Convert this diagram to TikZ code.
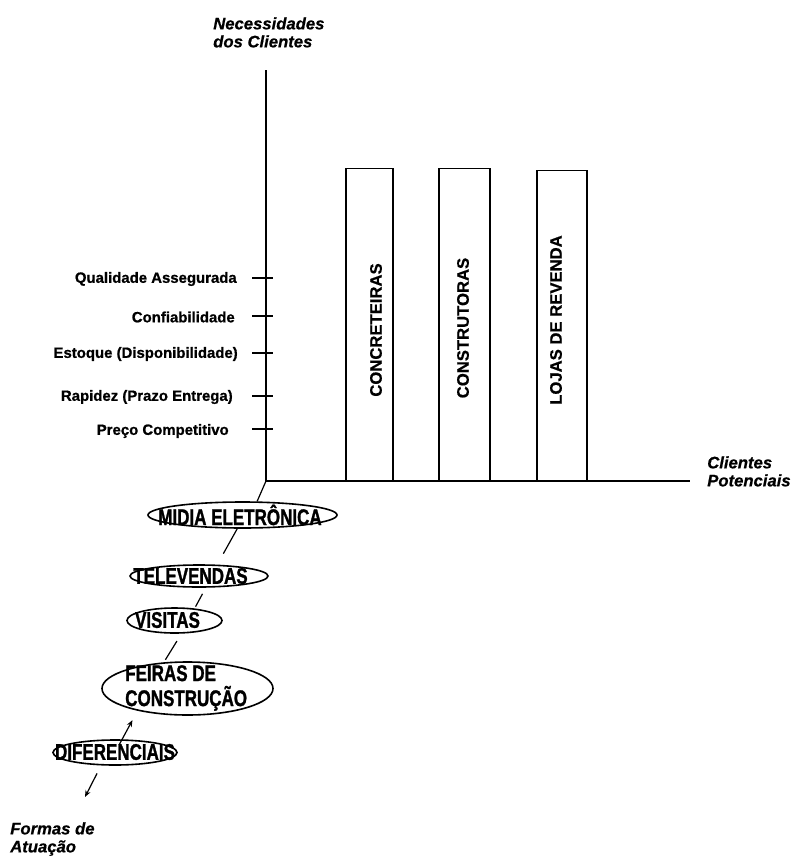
\documentclass[tikz,border=0pt]{standalone}
\usepackage{fontspec}
\setmainfont{Liberation Sans}
\newfontfamily\condfont[FakeStretch=0.75,FakeBold=1.2]{Liberation Sans Bold}
\newfontfamily\heavyfont[FakeBold=0.8]{Liberation Sans Bold}
\newfontfamily\barfont[FakeBold=0.5]{Liberation Sans Bold}
\newfontfamily\heavyitfont[FakeBold=0.6]{Liberation Sans Bold Italic}
\usetikzlibrary{shapes.geometric,arrows.meta}
\begin{document}
\begin{tikzpicture}[x=0.75pt,y=-0.75pt,
  axisline/.style={line width=1.1pt},
  tickline/.style={line width=0.9pt},
  barbox/.style={draw,line width=1.1pt,inner sep=0pt,anchor=south},
  bartext/.style={rotate=90,inner sep=0pt,font=\barfont\fontsize{12.5}{15}\selectfont},
  ticklabel/.style={anchor=east,inner sep=0pt,font=\heavyfont\fontsize{11.2}{12}\selectfont},
  axislabel/.style={anchor=north west,inner sep=0pt,align=left,font=\heavyitfont\fontsize{12.5}{13.5}\selectfont},
  ell/.style={draw,ellipse,line width=1.2pt,inner sep=0pt},
  elltext/.style={inner sep=0pt,font=\condfont\fontsize{17}{18.75}\selectfont},
  conn/.style={line width=0.9pt},
  arr/.style={conn,-{Stealth[length=5pt,width=4pt]}}]
\useasboundingbox (0,0) rectangle (801,857);
\fill[white] (0,0) rectangle (801,857);

% axes
\coordinate (O) at (266,481);
\coordinate (ytop) at (266,70);
\coordinate (xend) at (690,481);
\draw[axisline] (ytop) -- (O) -- (xend);

\node[axislabel] (ylab) at (213,17) {Necessidades\\dos Clientes};
\node[axislabel] (xlab) at (707,456) {Clientes\\Potenciais};
\node[axislabel] (flab) at (10,822) {Formas de\\Atuação};

% ticks and labels
\foreach \yy in {278,316,353,396,429}
  \draw[tickline] (252,\yy) -- (273,\yy);
\node[ticklabel] (t1) at (237,279) {Qualidade Assegurada};
\node[ticklabel] (t2) at (235,317) {Confiabilidade};
\node[ticklabel] (t3) at (238,354) {Estoque (Disponibilidade)};
\node[ticklabel] (t4) at (233,397) {Rapidez (Prazo Entrega)};
\node[ticklabel] (t5) at (229,431) {Preço Competitivo};

% bars
\node[barbox,minimum width=35.25pt,minimum height=234pt] (b1) at (369.5,481) {};
\node[barbox,minimum width=38.25pt,minimum height=234pt] (b2) at (464.5,481) {};
\node[barbox,minimum width=37.5pt,minimum height=232.5pt] (b3) at (562,481) {};
\node[bartext] (b1t) at (376,330) {CONCRETEIRAS};
\node[bartext] (b2t) at (463,328) {CONSTRUTORAS};
\node[bartext] (b3t) at (556,320) {LOJAS DE REVENDA};

% ellipses
\node[ell,minimum width=141.75pt,minimum height=19.5pt] (midia) at (242.5,515) {};
\node[elltext] (midiat) at (240,515) {MIDIA ELETRÔNICA};
\node[ell,minimum width=103.5pt,minimum height=16.5pt] (tele) at (199,576) {};
\node[elltext] (telet) at (190.5,576) {TELEVENDAS};
\node[ell,minimum width=71.25pt,minimum height=18.75pt] (visitas) at (174.5,620.5) {};
\node[elltext] (visitast) at (167.5,620) {VISITAS};
\node[ell,minimum width=128.25pt,minimum height=39.75pt] (feiras) at (187.5,688.5) {};
\node[elltext,anchor=west,align=left] (feirast) at (125,688) {FEIRAS DE\\CONSTRUÇÃO};
\node[ell,minimum width=93pt,minimum height=18.75pt] (dif) at (115,752.5) {};
\node[elltext] (dift) at (115,752) {DIFERENCIAIS};

% connectors
\coordinate (fend) at (85,797);
\draw[conn] (O) -- (midia.43);
\draw[conn,shorten >=9.4pt] (midia.-111) -- (tele.32);
\draw[conn,shorten <=5.2pt,shorten >=1.5pt] (tele.-60) -- (visitas.31);
\draw[conn,shorten <=6.5pt,shorten >=2.2pt] (visitas.-62) -- (feiras.132);
\draw[arr,shorten <=6.75pt,shorten >=8pt] (dif.center) -- (feiras.-156);
\draw[arr,shorten <=6.75pt] (dif.-137) -- (fend);
\end{tikzpicture}
\end{document}
